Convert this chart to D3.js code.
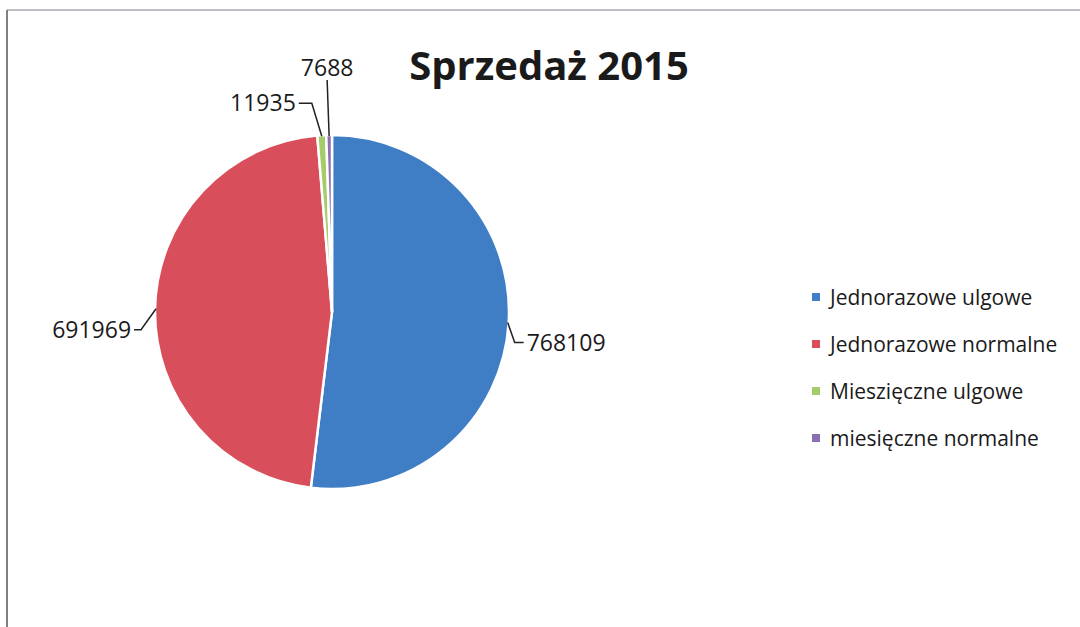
<!DOCTYPE html>
<html>
<head>
<meta charset="utf-8">
<script src="https://cdn.jsdelivr.net/npm/d3@7"></script>
<style>
  body { margin: 0; background: #fff; }
  text { font-family: "Open Sans", "DejaVu Sans", sans-serif; fill: #1a1a1a; }
</style>
</head>
<body>
<div id="chart"></div>
<script>
// chart data
const title = "Sprzedaż 2015";
const categories = ["Jednorazowe ulgowe", "Jednorazowe normalne", "Mieszięczne ulgowe", "miesięczne normalne"];
const values = [768109, 691969, 11935, 7688];
const colors = ["#3f7ec4", "#d84f5b", "#a6cc6a", "#8a6fb3"];

const width = 1080, height = 627;
const cx = 332, cy = 312, r = 177;

// leader line shape for each label (elbow + end, relative to arc point)
const leaders = [
  {elbow: [7, 20], end: [16, 20], anchor: "start"},
  {elbow: [-15, 21], end: [-22, 21], anchor: "end"},
  {elbow: [-10, -33], end: [-23, -33], anchor: "end"},
  {elbow: [-2, -56], end: [-2, -56], anchor: "middle"}
];

const svg = d3.select("#chart").append("svg")
  .attr("width", width)
  .attr("height", height);

// scanned page border: faint top edge, darker left edge
svg.append("line")
  .attr("x1", 7).attr("y1", 10).attr("x2", width).attr("y2", 10)
  .attr("stroke", "#a8a8b4")
  .attr("stroke-width", 1.5);
svg.append("line")
  .attr("x1", 7).attr("y1", 10).attr("x2", 7).attr("y2", height)
  .attr("stroke", "#808080")
  .attr("stroke-width", 2);

svg.append("text")
  .attr("x", 549).attr("y", 80)
  .attr("text-anchor", "middle")
  .style("font-size", "40px")
  .style("font-weight", "bold")
  .text(title);

const pie = d3.pie().sort(null).value(d => d)(values);
const arc = d3.arc().innerRadius(0).outerRadius(r);

const g = svg.append("g").attr("transform", `translate(${cx},${cy})`);

g.selectAll("path.slice")
  .data(pie)
  .join("path")
  .attr("class", "slice")
  .attr("d", arc)
  .attr("fill", (d, i) => colors[i])
  .attr("stroke", "#fff")
  .attr("stroke-width", 2.5);

// data labels with leader lines
pie.forEach((d, i) => {
  const a = (d.startAngle + d.endAngle) / 2;
  const px = Math.sin(a) * (r - 1), py = -Math.cos(a) * (r - 1);
  const L = leaders[i];
  g.append("polyline")
    .attr("points", [[px, py], [px + L.elbow[0], py + L.elbow[1]], [px + L.end[0], py + L.end[1]]].map(p => p.join(",")).join(" "))
    .attr("fill", "none")
    .attr("stroke", "#222")
    .attr("stroke-width", 1.5);
  const t = g.append("text")
    .attr("text-anchor", L.anchor)
    .style("font-size", "23px")
    .text(d.data);
  if (L.anchor === "middle") {
    t.attr("x", px + L.end[0]).attr("y", py + L.end[1] - 4);
  } else {
    t.attr("x", px + L.end[0] + (L.anchor === "start" ? 3 : -3))
      .attr("y", py + L.end[1])
      .attr("dy", "0.35em");
  }
});

// legend
const legend = svg.append("g").attr("transform", "translate(812,298)");
const rows = legend.selectAll("g")
  .data(categories)
  .join("g")
  .attr("transform", (d, i) => `translate(0,${i * 47})`);
rows.append("rect")
  .attr("x", 0).attr("y", -5)
  .attr("width", 8).attr("height", 8)
  .attr("fill", (d, i) => colors[i]);
rows.append("text")
  .attr("x", 18).attr("y", 0)
  .attr("dy", "0.35em")
  .style("font-size", "21px")
  .text(d => d);
</script>
</body>
</html>
